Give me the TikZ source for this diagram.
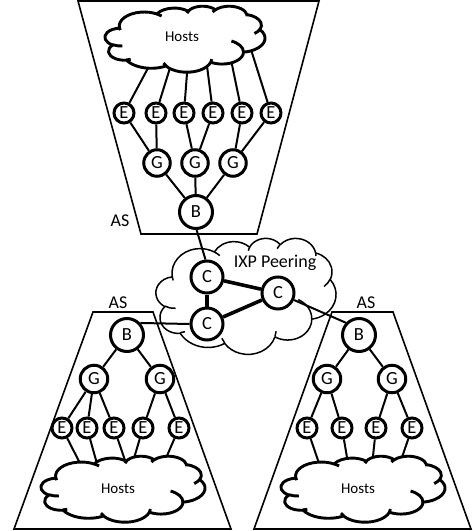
\documentclass[tikz,border=0pt]{standalone}
\usepackage{fontspec}
\setmainfont{Carlito}
\pgfdeclarelayer{bg}
\pgfsetlayers{bg,main}
\newcommand\cldcalc[4]{%
  \pgfmathsetmacro\cldta{#3}%
  \pgfmathsetmacro\cldtb{#3+#4}%
  \pgfmathsetmacro\cldpa{atan2((#1)*sin(\cldta),(#2)*cos(\cldta))}%
  \pgfmathsetmacro\cldpb{atan2((#1)*sin(\cldtb),(#2)*cos(\cldtb))}%
  \pgfmathsetmacro\cldd{\cldpb-\cldpa}%
  \pgfmathsetmacro\cldd{\cldd-360*round((\cldd-(#4))/360)}%
  \global\let\gpsA\cldpa
  \global\let\gpd\cldd
}
% #1 style, #2 x0, #3 y0, #4 W, #5 H
\newcommand\officecloud[5]{%
\pgfmathsetmacro\cldsx{#4/432}\pgfmathsetmacro\cldsy{#5/432}%
\begin{scope}[shift={(#2,#3)}, x=\cldsx pt, y=-\cldsy pt]
\draw[#1] (39.00,143.70)
 \pgfextra{\cldcalc{67.53}{91.90}{-190.4875}{123.7805}} arc[start angle=\gpsA, delta angle=\gpd, x radius=67.53, y radius=91.90]
 \pgfextra{\cldcalc{53.33}{72.67}{-144.1024}{89.9452}} arc[start angle=\gpsA, delta angle=\gpd, x radius=53.33, y radius=72.67]
 \pgfextra{\cldcalc{43.65}{59.45}{-145.8079}{99.7230}} arc[start angle=\gpsA, delta angle=\gpd, x radius=43.65, y radius=59.45]
 \pgfextra{\cldcalc{48.57}{65.95}{-130.9861}{117.2417}} arc[start angle=\gpsA, delta angle=\gpd, x radius=48.57, y radius=65.95]
 \pgfextra{\cldcalc{53.33}{72.73}{-78.7089}{109.0269}} arc[start angle=\gpsA, delta angle=\gpd, x radius=53.33, y radius=72.73]
 \pgfextra{\cldcalc{67.75}{92.20}{-46.2673}{130.2690}} arc[start angle=\gpsA, delta angle=\gpd, x radius=67.75, y radius=92.20]
 \pgfextra{\cldcalc{57.85}{78.67}{0.6250}{114.0333}} arc[start angle=\gpsA, delta angle=\gpd, x radius=57.85, y radius=78.67]
 \pgfextra{\cldcalc{67.52}{92.15}{22.4516}{115.1726}} arc[start angle=\gpsA, delta angle=\gpd, x radius=67.52, y radius=92.15]
 \pgfextra{\cldcalc{77.20}{105.43}{66.2426}{75.7110}} arc[start angle=\gpsA, delta angle=\gpd, x radius=77.20, y radius=105.43]
 \pgfextra{\cldcalc{43.60}{59.18}{-274.9421}{146.7356}} arc[start angle=\gpsA, delta angle=\gpd, x radius=43.60, y radius=59.18]
 \pgfextra{\cldcalc{43.45}{59.45}{-246.8285}{152.5189}} arc[start angle=\gpsA, delta angle=\gpd, x radius=43.45, y radius=59.45]
 -- cycle;
\draw[#1, fill=none]
 (46.93,261.77) \pgfextra{\cldcalc{43.45}{59.45}{86.7420}{26.4295}} arc[start angle=\gpsA, delta angle=\gpd, x radius=43.45, y radius=59.45]
 (69.28,348.99) \pgfextra{\cldcalc{43.60}{59.18}{73.6105}{11.4475}} arc[start angle=\gpsA, delta angle=\gpd, x radius=43.60, y radius=59.18]
 (164.78,390.90) \pgfextra{\cldcalc{67.52}{92.15}{137.6242}{14.0811}} arc[start angle=\gpsA, delta angle=\gpd, x radius=67.52, y radius=92.15]
 (288.27,347.51) \pgfextra{\cldcalc{67.52}{92.15}{6.4533}{15.9984}} arc[start angle=\gpsA, delta angle=\gpd, x radius=67.52, y radius=92.15]
 (341.29,229.54) \pgfextra{\cldcalc{57.85}{78.67}{-70.2924}{70.9174}} arc[start angle=\gpsA, delta angle=\gpd, x radius=57.85, y radius=78.67]
 (417.98,153.54) \pgfextra{\cldcalc{53.33}{72.73}{30.3180}{27.7515}} arc[start angle=\gpsA, delta angle=\gpd, x radius=53.33, y radius=72.73]
 (383.24,54.26) \pgfextra{\cldcalc{48.57}{65.95}{-13.7443}{14.8589}} arc[start angle=\gpsA, delta angle=\gpd, x radius=48.57, y radius=65.95]
 (290.78,39.52) \pgfextra{\cldcalc{48.57}{65.95}{-149.1815}{18.1954}} arc[start angle=\gpsA, delta angle=\gpd, x radius=48.57, y radius=65.95]
 (221.41,47.20) \pgfextra{\cldcalc{43.65}{59.45}{-163.4943}{17.6864}} arc[start angle=\gpsA, delta angle=\gpd, x radius=43.65, y radius=59.45]
 (140.00,51.92) \pgfextra{\cldcalc{67.53}{91.90}{-66.7070}{12.3194}} arc[start angle=\gpsA, delta angle=\gpd, x radius=67.53, y radius=91.90]
 (41.27,157.89) \pgfextra{\cldcalc{67.53}{91.90}{157.6544}{11.8582}} arc[start angle=\gpsA, delta angle=\gpd, x radius=67.53, y radius=91.90];
\end{scope}}
\tikzset{
  nd/.style={circle, draw, line width=3pt, fill=white, inner sep=0pt, font=\fontsize{18.5}{18.5}\selectfont},
  enode/.style={nd, minimum size=20pt},
  gnode/.style={nd, minimum size=26.5pt},
  gbnode/.style={nd, minimum size=27.5pt},
  bnode/.style={nd, minimum size=33pt},
  cnode/.style={nd, minimum size=32pt},
  conn/.style={line width=2pt},
  cconn/.style={line width=3.6pt},
  trap/.style={line width=1.6pt, line join=miter},
  hostcloud/.style={line width=2.9pt, fill=white, line join=round},
  ixpcloud/.style={line width=1.5pt, line join=round},
  hosttxt/.style={font=\fontsize{15}{15}\selectfont, inner sep=0pt},
  lbl/.style={font=\fontsize{18}{18}\selectfont, inner sep=0pt},
}
\begin{document}
\begin{tikzpicture}[x=1pt,y=-1pt]
\useasboundingbox (0,0) rectangle (473,531);
% ---------- top AS ----------
\officecloud{hostcloud}{105}{6}{160}{66}
\node[hosttxt] (tH) at (182,37) {Hosts};
\foreach \i/\x in {1/124,2/156,3/184,4/213,5/242,6/271}
  \node[enode] (tE\i) at (\x,113) {E};
\node[gnode] (tG1) at (157,163) {G};
\node[gnode] (tG2) at (195,163) {G};
\node[gnode] (tG3) at (233,163) {G};
\node[bnode] (tB) at (196,212) {B};
\node[lbl] (tAS) at (120,221) {AS};
\coordinate (th1) at (155,55);
\coordinate (th2) at (174,55);
\coordinate (th3) at (188,60);
\coordinate (th4) at (206,58);
\coordinate (th5) at (230,55);
\coordinate (th6) at (248,40);
% ---------- IXP ----------
\node[cnode] (C1) at (207,277) {C};
\node[cnode] (C2) at (278,293) {C};
\node[cnode] (C3) at (207,324) {C};
\node[lbl] (ixpl) at (275,263) {IXP Peering};
% ---------- bottom-left AS ----------
\officecloud{hostcloud}{41}{456}{164}{66}
\node[hosttxt] (lH) at (118,489) {Hosts};
\node[bnode] (lB) at (127,335) {B};
\node[gbnode] (lG1) at (94,379) {G};
\node[gbnode] (lG2) at (160,379) {G};
\foreach \i/\x in {1/62,2/87,3/114,4/143,5/179}
  \node[enode] (lE\i) at (\x,428) {E};
\node[lbl] (lAS) at (118,303) {AS};
\coordinate (lh1) at (86,475);
\coordinate (lh2) at (101,478);
\coordinate (lh3) at (130,475);
\coordinate (lh4) at (129,475);
\coordinate (lh5) at (160,472);
% ---------- bottom-right AS ----------
\officecloud{hostcloud}{281}{456}{164}{66}
\node[hosttxt] (rH) at (358,489) {Hosts};
\node[bnode] (rB) at (359,335) {B};
\node[gbnode] (rG1) at (327,379) {G};
\node[gbnode] (rG2) at (392,379) {G};
\foreach \i/\x in {1/307,2/342,3/376,4/412}
  \node[enode] (rE\i) at (\x,428) {E};
\node[lbl] (rAS) at (366,303) {AS};
\coordinate (rh1) at (323,475);
\coordinate (rh2) at (350,475);
\coordinate (rh3) at (371,475);
\coordinate (rh4) at (397,472);
\begin{pgfonlayer}{bg}
  \draw[trap] (78,1) -- (319,1) -- (257,234) -- (141,234) -- cycle;
  \draw[trap] (93,312) -- (153,312) -- (231,529) -- (14,529) -- cycle;
  \draw[trap] (332,312) -- (393,312) -- (471,529) -- (254,529) -- cycle;
  \officecloud{ixpcloud}{156}{238}{180}{116}
  % top
  \foreach \i in {1,...,6} \draw[conn] (tE\i) -- (th\i);
  \draw[conn] (tE1) -- (tG1); \draw[conn] (tE2) -- (tG1);
  \draw[conn] (tE3) -- (tG2); \draw[conn] (tE4) -- (tG2);
  \draw[conn] (tE5) -- (tG3); \draw[conn] (tE6) -- (tG3);
  \draw[conn] (tG1) -- (tB); \draw[conn] (tG2) -- (tB); \draw[conn] (tG3) -- (tB);
  % bottom-left
  \draw[conn] (lB) -- (lG1); \draw[conn] (lB) -- (lG2);
  \draw[conn] (lG1) -- (lE1); \draw[conn] (lG1) -- (lE2); \draw[conn] (lG1) -- (lE3);
  \draw[conn] (lG2) -- (lE4); \draw[conn] (lG2) -- (lE5);
  \foreach \i in {1,...,5} \draw[conn] (lE\i) -- (lh\i);
  % bottom-right
  \draw[conn] (rB) -- (rG1); \draw[conn] (rB) -- (rG2);
  \draw[conn] (rG1) -- (rE1); \draw[conn] (rG1) -- (rE2);
  \draw[conn] (rG2) -- (rE3); \draw[conn] (rG2) -- (rE4);
  \foreach \i in {1,...,4} \draw[conn] (rE\i) -- (rh\i);
  % inter-AS
  \draw[conn] (tB.-88) -- (C1.95);
  \draw[conn] (lB.42) -- (C3.west);
  \draw[conn] (C2) -- (rB.137);
  \draw[cconn] (C1) -- (C2);
  \draw[cconn] (C1) -- (C3);
  \draw[cconn] (C3) -- (C2);
\end{pgfonlayer}
\end{tikzpicture}
\end{document}
